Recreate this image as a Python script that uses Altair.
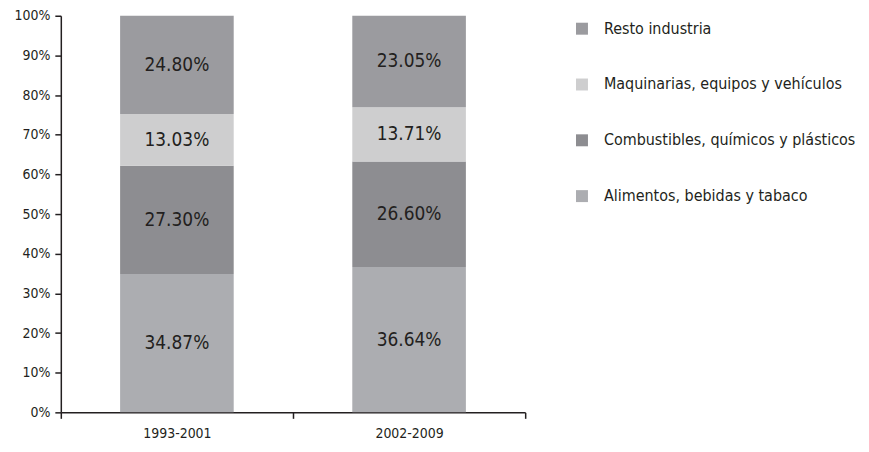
import altair as alt
import pandas as pd

periods = ["1993-2001", "2002-2009"]
categories = ["Alimentos, bebidas y tabaco", "Combustibles, químicos y plásticos",
              "Maquinarias, equipos y vehículos", "Resto industria"]
legend_order = ["Resto industria", "Maquinarias, equipos y vehículos",
                "Combustibles, químicos y plásticos", "Alimentos, bebidas y tabaco"]
values_1993 = [34.87, 27.30, 13.03, 24.80]
values_2002 = [36.64, 26.60, 13.71, 23.05]
colors = ["#acadb1", "#8d8d91", "#cececf", "#9b9b9f"]

rows = []
for p, vals in zip(periods, [values_1993, values_2002]):
    for i, (c, v) in enumerate(zip(categories, vals)):
        rows.append({"period": p, "cat": c, "val": v / 100, "ord": i,
                     "label": f"{v:.2f}%"})
df = pd.DataFrame(rows)

FONT = "DejaVu Sans Condensed"
TXT = "#231f20"

x_axis = alt.Axis(labelAngle=0, tickBand="extent", labelPadding=8, grid=False,
                  labelFont=FONT, labelFontSize=14, labelColor=TXT,
                  domainColor=TXT, tickColor=TXT, domainWidth=1.5,
                  tickWidth=1.5, tickSize=6)
y_axis = alt.Axis(format=".0%", values=[i / 10 for i in range(11)],
                  labelPadding=5, labelOverlap=False, grid=False,
                  labelFont=FONT, labelFontSize=14, labelColor=TXT,
                  domainColor=TXT, tickColor=TXT, domainWidth=1.5,
                  tickWidth=1.5, tickSize=6)
x_enc = alt.X("period:N", sort=periods, title=None,
              scale=alt.Scale(paddingInner=0, paddingOuter=0), axis=x_axis)

base = alt.Chart(df)

bars = base.mark_bar(size=114).encode(
    x=x_enc,
    y=alt.Y("val:Q", stack="zero", title=None,
            scale=alt.Scale(domain=[0, 1]), axis=y_axis),
    color=alt.Color("cat:N", sort=legend_order,
                    scale=alt.Scale(domain=categories, range=colors),
                    legend=alt.Legend(title=None, orient="none",
                                      legendX=515, legendY=5,
                                      symbolType="square", symbolSize=144,
                                      symbolStrokeWidth=0, labelFont=FONT,
                                      labelFontSize=16, labelColor=TXT,
                                      rowPadding=40, labelOffset=14,
                                      labelLimit=400, values=legend_order)),
    order=alt.Order("ord:Q"),
)

texts = base.transform_window(
    cum="sum(val)", groupby=["period"], sort=[alt.SortField("ord")],
    frame=[None, 0]
).transform_calculate(
    mid="datum.cum - datum.val / 2"
).mark_text(font=FONT, fontSize=19, color=TXT).encode(
    x=x_enc,
    y=alt.Y("mid:Q", title=None, scale=alt.Scale(domain=[0, 1]), axis=y_axis),
    text="label:N",
)

chart = alt.layer(bars, texts).properties(
    width=466, height=398, background="white",
    padding={"top": 0, "left": 5, "right": 5, "bottom": 5}
).configure_view(stroke=None)

chart.save("out.html", embed_options={"renderer": "svg", "actions": False})
